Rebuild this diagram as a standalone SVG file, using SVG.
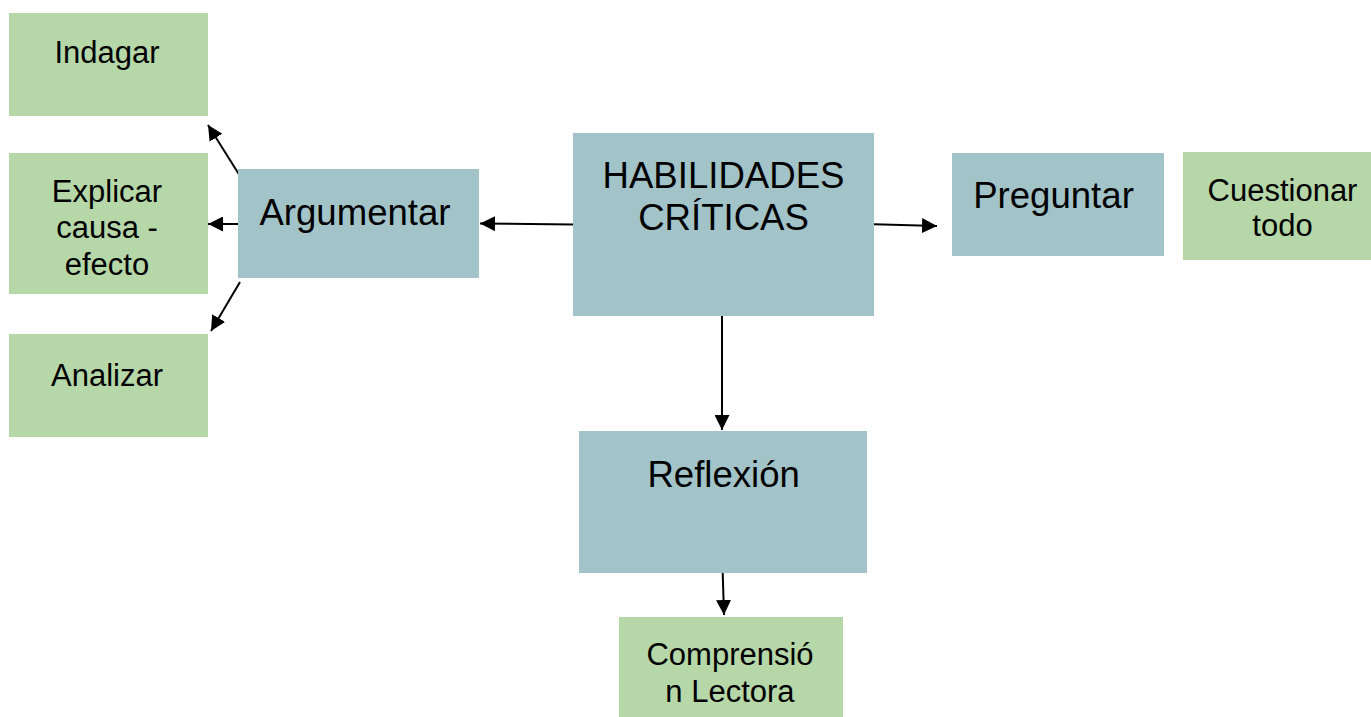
<svg xmlns="http://www.w3.org/2000/svg" width="1371" height="717" viewBox="0 0 1371 717">
<style>
.g{fill:#B6D7A8}
.b{fill:#A2C4C9}
text{font-family:"Liberation Sans",Arial,sans-serif;fill:#000;text-anchor:middle}
.tg{font-size:31px}
.tb{font-size:36.6px}
.c{stroke:#000;stroke-width:2;fill:none;marker-end:url(#ah)}
</style>
<defs>
<marker id="ah" markerUnits="userSpaceOnUse" markerWidth="15" markerHeight="15" refX="15" refY="7.5" orient="auto">
<path d="M0,0 L15,7.5 L0,15 z" fill="#000"/>
</marker>
<clipPath id="clipComp"><rect x="619" y="617" width="224" height="85"/></clipPath>
</defs>
<rect width="1371" height="717" fill="#fff"/>
<g id="connectors">
<line class="c" x1="240" y1="176" x2="208" y2="125"/>
<line class="c" x1="238" y1="224" x2="208" y2="224"/>
<line class="c" x1="240" y1="282" x2="211" y2="331"/>
<line class="c" x1="573" y1="224.5" x2="480" y2="223.5"/>
<line class="c" x1="874" y1="224.3" x2="937" y2="226"/>
<line class="c" x1="722" y1="316" x2="722" y2="430"/>
<line class="c" x1="722.7" y1="573" x2="724" y2="615"/>
</g>
<g id="indagar">
<rect class="g" x="9" y="13" width="199" height="103"/>
<text class="tg" x="107" y="63">Indagar</text>
</g>
<g id="explicar">
<rect class="g" x="9" y="153" width="199" height="141"/>
<text class="tg" x="107" y="201.5">Explicar</text>
<text class="tg" x="107" y="238">causa -</text>
<text class="tg" x="107" y="274.5">efecto</text>
</g>
<g id="analizar">
<rect class="g" x="9" y="334" width="199" height="103"/>
<text class="tg" x="107" y="386">Analizar</text>
</g>
<g id="argumentar">
<rect class="b" x="238" y="169" width="241" height="109"/>
<text class="tb" x="355" y="225">Argumentar</text>
</g>
<g id="habilidades">
<rect class="b" x="573" y="133" width="301" height="183"/>
<text class="tb" x="723.5" y="188.3">HABILIDADES</text>
<text class="tb" x="723.5" y="230">CRÍTICAS</text>
</g>
<g id="preguntar">
<rect class="b" x="952" y="153" width="212" height="103"/>
<text class="tb" x="1053.5" y="208.3">Preguntar</text>
</g>
<g id="cuestionar">
<rect class="g" x="1183" y="152" width="188" height="108"/>
<text class="tg" x="1282.5" y="201.3">Cuestionar</text>
<text class="tg" x="1282.5" y="235.5">todo</text>
</g>
<g id="reflexion">
<rect class="b" x="579" y="431" width="288" height="142"/>
<text class="tb" x="723.7" y="486.5">Reflexión</text>
</g>
<g id="comprension">
<rect class="g" x="619" y="617" width="224" height="100"/>
<g clip-path="url(#clipComp)">
<text class="tg" x="730" y="665">Comprensió</text>
<text class="tg" x="730" y="701.7">n Lectora</text>
</g>
</g>
</svg>
